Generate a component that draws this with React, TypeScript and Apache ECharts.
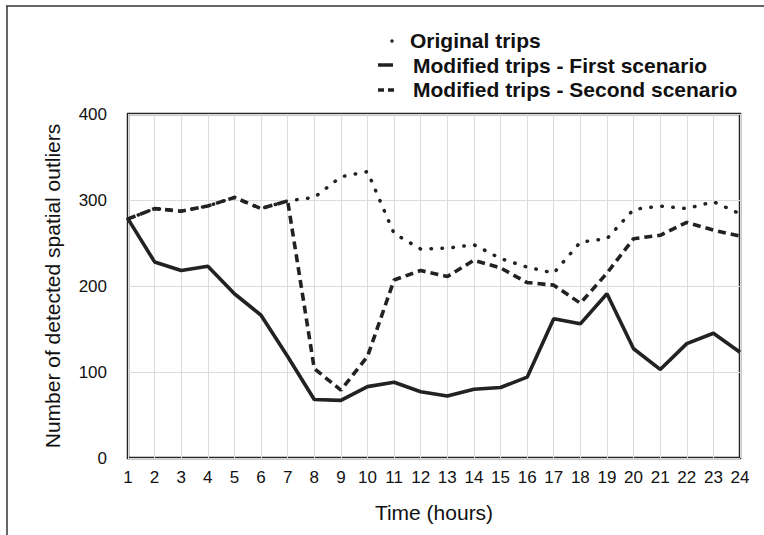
import React, { useEffect, useRef } from "react";
import * as echarts from "echarts";

const hours = ["1","2","3","4","5","6","7","8","9","10","11","12","13","14","15","16","17","18","19","20","21","22","23","24"];
const originalTrips = [278, 290, 287, 293, 303, 290, 299, 303, 327, 333, 261, 243, 244, 248, 232, 222, 215, 251, 255, 289, 293, 290, 298, 284];
const firstScenario = [278, 228, 218, 223, 191, 166, 118, 68, 67, 83, 88, 77, 72, 80, 82, 94, 162, 156, 191, 127, 103, 133, 145, 123];
const secondScenario = [278, 290, 287, 293, 303, 290, 299, 104, 79, 118, 207, 218, 211, 230, 221, 204, 201, 180, 215, 255, 259, 274, 265, 258];
const legendLabels = ["Original trips", "Modified trips - First scenario", "Modified trips - Second scenario"];

const FONT = "'Liberation Sans', Arial, Helvetica, sans-serif";
const INK = "#222";

export default function App() {
  const ref = useRef<HTMLDivElement>(null);
  useEffect(() => {
    if (!ref.current) return;
    const chart = echarts.init(ref.current, null, { renderer: "svg" });
    chart.setOption({
      animation: false,
      backgroundColor: "#fff",
      textStyle: { fontFamily: FONT },
      grid: { left: 128, right: 24, top: 114, bottom: 77, show: true, borderColor: INK, borderWidth: 2.5, backgroundColor: "transparent" },
      xAxis: {
        type: "category",
        data: hours,
        boundaryGap: false,
        name: "Time (hours)",
        nameLocation: "middle",
        nameGap: 44,
        nameTextStyle: { fontSize: 21, color: "#111", fontFamily: FONT },
        axisLine: { show: false },
        axisTick: { show: false },
        axisLabel: { fontSize: 17, color: "#111", margin: 11, interval: 0, fontFamily: FONT },
        splitLine: { show: true, interval: 0, lineStyle: { color: "#dcdcdc", width: 1 } },
      },
      yAxis: {
        type: "value",
        min: 0,
        max: 400,
        interval: 100,
        name: "Number of detected spatial outliers",
        nameLocation: "middle",
        nameGap: 65,
        nameRotate: 90,
        nameTextStyle: { fontSize: 21, color: "#111", fontFamily: FONT },
        axisLine: { show: false },
        axisTick: { show: false },
        axisLabel: { fontSize: 17, color: "#111", margin: 21, fontFamily: FONT },
        splitLine: { show: true, lineStyle: { color: "#dcdcdc", width: 1 } },
      },
      series: [
        {
          name: legendLabels[0],
          type: "line",
          data: originalTrips,
          symbol: "none",
          lineStyle: { color: INK, width: 3.5, type: [0.5, 10.5], cap: "round" },
          z: 3,
        },
        {
          name: legendLabels[1],
          type: "line",
          data: firstScenario,
          symbol: "none",
          lineStyle: { color: INK, width: 3.6, type: "solid" },
          z: 4,
        },
        {
          name: legendLabels[2],
          type: "line",
          data: secondScenario,
          symbol: "none",
          lineStyle: { color: INK, width: 3.6, type: [8, 5] },
          z: 3,
        },
      ],
      graphic: [
        { type: "line", shape: { x1: 6, y1: 6, x2: 764, y2: 6 }, style: { stroke: "#333", lineWidth: 1.5 } },
        { type: "line", shape: { x1: 7, y1: 6, x2: 7, y2: 535 }, style: { stroke: "#333", lineWidth: 1.5 } },
        { type: "circle", shape: { cx: 392, cy: 41, r: 1.7 }, style: { fill: INK } },
        { type: "text", left: 410, top: 30, style: { text: legendLabels[0], font: `bold 21px ${FONT}`, fill: "#111" } },
        { type: "line", shape: { x1: 378, y1: 65, x2: 393, y2: 65 }, style: { stroke: INK, lineWidth: 3.5 } },
        { type: "text", left: 413, top: 55, style: { text: legendLabels[1], font: `bold 21px ${FONT}`, fill: "#111" } },
        { type: "line", shape: { x1: 378, y1: 90, x2: 384, y2: 90 }, style: { stroke: INK, lineWidth: 3.5 } },
        { type: "line", shape: { x1: 388, y1: 90, x2: 394, y2: 90 }, style: { stroke: INK, lineWidth: 3.5 } },
        { type: "text", left: 413, top: 79, style: { text: legendLabels[2], font: `bold 21px ${FONT}`, fill: "#111" } },
      ],
    });
    return () => chart.dispose();
  }, []);
  return <div ref={ref} style={{ position: "fixed", left: 0, top: 0, width: 764, height: 535 }} />;
}
